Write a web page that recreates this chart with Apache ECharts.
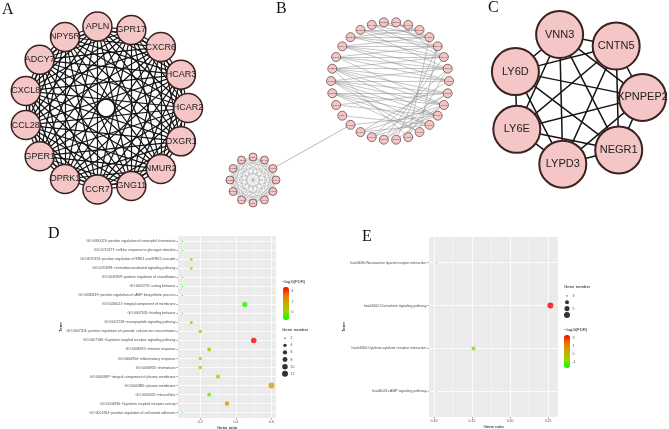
<!DOCTYPE html>
<html>
<head>
<meta charset="utf-8">
<script src="https://cdn.jsdelivr.net/npm/echarts@6/dist/echarts.min.js"></script>
<style>
  html, body { margin: 0; padding: 0; background: #fff; }
  #chart { width: 669px; height: 429px; }
</style>
</head>
<body>
<div id="chart"></div>
<script>
// ---- network A (listed clockwise from 3 o'clock)
const aGenes = ['HCAR2', 'OXGR1', 'NMUR2', 'GNG11', 'CCR7', 'OPRK1', 'GPER1', 'CCL28',
  'CXCL8', 'ADCY7', 'NPY5R', 'APLN', 'GPR17', 'CXCR6', 'HCAR3'];

// ---- network B: big module, small module and the one edge between them
const bBigGenes = ['CCR1', 'CCR2', 'CCR5', 'CXCR4', 'CCL2', 'CCL5', 'CXCL12', 'CCL19', 'CCL21', 'CXCL10',
  'CXCL9', 'CXCR3', 'CCR4', 'CCL17', 'CCL22', 'GNG2', 'GNB1', 'ADRA2A', 'HTR1A', 'DRD2',
  'OPRM1', 'NPY1R', 'PTGER3', 'S1PR1', 'LPAR1', 'C5AR1', 'FPR1', 'P2RY12', 'GNAI1', 'ADCY5'];
const bSmallGenes = ['LY6H', 'LYPD1', 'LY6K', 'PSCA', 'LYNX1', 'SLURP1', 'GPIHBP1', 'LYPD2',
  'LY6G6C', 'CD59', 'PLAUR', 'LYPD6'];
const bBigEdges = [
  [15, 29], [15, 0], [15, 1], [15, 2], [15, 3], [15, 4], [15, 5],
  [16, 28], [16, 29], [16, 0], [16, 1], [16, 2], [16, 3], [16, 6],
  [14, 1], [14, 2], [14, 3], [14, 4], [14, 5],
  [17, 27], [17, 28], [17, 0], [17, 2], [17, 29],
  [18, 26], [18, 27], [18, 28], [18, 29], [18, 0],
  [19, 25], [19, 26], [19, 27], [19, 28],
  [20, 25], [20, 26], [20, 27], [20, 29],
  [21, 24], [21, 26], [21, 28],
  [22, 25], [22, 27], [23, 26], [23, 28],
  [8, 1], [8, 2], [8, 28], [9, 1], [9, 3], [9, 29],
  [10, 2], [10, 4], [10, 0], [7, 2], [7, 27],
  [6, 26], [5, 27], [6, 29], [13, 3], [12, 4], [11, 3], [13, 1]
];
const bLink = [11, 11]; // [small module node, big module node]

// ---- network C
const cGenes = ['XPNPEP2', 'NEGR1', 'LYPD3', 'LY6E', 'LY6D', 'VNN3', 'CNTN5'];

// ---- D: GO terms
const dTerms = [
  'GO:0090023~positive regulation of neutrophil chemotaxis',
  'GO:0071377~cellular response to glucagon stimulus',
  'GO:0070374~positive regulation of ERK1 and ERK2 cascade',
  'GO:0070098~chemokine-mediated signaling pathway',
  'GO:0045909~positive regulation of vasodilation',
  'GO:0042755~eating behavior',
  'GO:0030819~positive regulation of cAMP biosynthetic process',
  'GO:0016021~integral component of membrane',
  'GO:0007631~feeding behavior',
  'GO:0007218~neuropeptide signaling pathway',
  'GO:0007204~positive regulation of cytosolic calcium ion concentration',
  'GO:0007186~G-protein coupled receptor signaling pathway',
  'GO:0006955~immune response',
  'GO:0006954~inflammatory response',
  'GO:0006935~chemotaxis',
  'GO:0005887~integral component of plasma membrane',
  'GO:0005886~plasma membrane',
  'GO:0005622~intracellular',
  'GO:0004930~G-protein coupled receptor activity',
  'GO:0001954~positive regulation of cell-matrix adhesion'
];
const dRatio = [0.1, 0.1, 0.15, 0.15, 0.1, 0.1, 0.1, 0.45, 0.1, 0.15, 0.2, 0.5, 0.25, 0.2, 0.2, 0.3, 0.6, 0.25, 0.35, 0.1];
const dCount = [2, 2, 3, 3, 2, 2, 2, 9, 2, 3, 4, 10, 5, 4, 4, 6, 12, 5, 7, 2];
const dLogFdr = [-1.4, -1.4, 0.2, 0.3, -1.3, -1.4, -1.2, -1.0, -1.4, -0.6, 0.5, 4.8, 1.0, 0.3, 0.8, 0.2, 1.8, -0.5, 2.2, -1.3];
const dRatioTicks = [0.2, 0.4, 0.6];
const dRatioMinor = [0.1, 0.3, 0.5];
const dSizeLegend = [2, 4, 6, 8, 10, 12];
const dColorTicks = [0, 2, 4];

// ---- E: KEGG pathways
const eTerms = [
  'hsa04080:Neuroactive ligand-receptor interaction',
  'hsa04062:Chemokine signaling pathway',
  'hsa04060:Cytokine-cytokine receptor interaction',
  'hsa04024:cAMP signaling pathway'
];
const eRatio = [0.103, 0.253, 0.152, 0.103];
const eCount = [3, 6, 4, 3];
const eLogFdr = [-1.5, 2.4, -0.9, 0.0];
const eRatioTicks = [0.10, 0.15, 0.20, 0.25];
const eRatioMinor = [0.125, 0.175, 0.225];
const eSizeLegend = [3, 4, 5, 6];
const eColorTicks = [-1, 0, 1, 2];

const FONT = 'Liberation Sans';
const SERIF = 'Liberation Serif';
const PINK = '#f5c6c6';
const RIM = '#3b2121';
const TXT = '#4d4d4d';
const FDR_COLORS = ['#00ff00', '#98d700', '#c8ab00', '#e87700', '#ff0000'];

// ggplot area scale for point size
const sizeScale = (lo, hi) => v => 1.3 + 4.7 * Math.sqrt((v - lo) / (hi - lo));
const sizeD = sizeScale(2, 12);
const sizeE = sizeScale(3, 6);

function ringNodes(names, start) {
  return names.map((n, i) => ({ name: n, value: [1, ((start + i * 360 / names.length) % 360 + 360) % 360] }));
}
function allPairs(names) {
  const out = [];
  for (let i = 0; i < names.length; i++)
    for (let j = i + 1; j < names.length; j++) out.push({ source: names[i], target: names[j] });
  return out;
}

const aNodes = ringNodes(aGenes, 0);
const bBigNodes = ringNodes(bBigGenes, 0);
const bSmallNodes = ringNodes(bSmallGenes, 0);
const cNodes = ringNodes(cGenes, -1.4);

function netSeries(polarIndex, nodes, links, o) {
  return {
    type: 'graph', coordinateSystem: 'polar', polarIndex,
    data: nodes, links, silent: true,
    symbol: 'circle', symbolSize: o.size,
    itemStyle: { color: PINK, borderColor: RIM, borderWidth: o.rim },
    label: { show: true, position: 'inside', formatter: '{b}', fontFamily: FONT, fontSize: o.font, color: o.textColor || '#222' },
    lineStyle: { color: o.edge, width: o.edgeWidth, opacity: 1, curveness: 0 },
    emphasis: { disabled: true }
  };
}

function polarAxes(n) {
  const angleAxis = [], radiusAxis = [];
  for (let i = 0; i < n; i++) {
    angleAxis.push({ polarIndex: i, type: 'value', min: 0, max: 360, startAngle: 0, clockwise: true, show: false });
    radiusAxis.push({ polarIndex: i, type: 'value', min: 0, max: 1, show: false });
  }
  return { angleAxis, radiusAxis };
}
const pa = polarAxes(4);

function ggX(gridIndex, min, max, ticks, digits, gap) {
  return {
    type: 'value', gridIndex, min, max,
    name: 'Gene ratio', nameLocation: 'middle', nameGap: gap,
    nameTextStyle: { fontFamily: FONT, fontSize: 4.3, color: '#000' },
    axisLine: { show: false },
    axisTick: { show: true, customValues: ticks, length: 1.5, lineStyle: { color: '#333', width: 0.5 } },
    axisLabel: { customValues: ticks, fontFamily: FONT, fontSize: 3.5, color: TXT, margin: 2.5, formatter: v => v.toFixed(digits) },
    splitLine: { show: true, lineStyle: { color: '#fff', width: 0.8 } }
  };
}
function ggMinorX(gridIndex, min, max, ticks) {
  return {
    type: 'value', gridIndex, min, max,
    axisLine: { show: false },
    axisTick: { show: false, customValues: ticks },
    axisLabel: { show: false, customValues: ticks },
    splitLine: { show: true, lineStyle: { color: '#fff', width: 0.4 } }
  };
}
function ggY(gridIndex, terms, gap) {
  const idx = terms.map((t, i) => i + 1);
  return {
    type: 'value', gridIndex, inverse: true, min: 0.4, max: terms.length + 0.6,
    name: 'Term', nameLocation: 'middle', nameGap: gap, nameRotate: 90,
    nameTextStyle: { fontFamily: FONT, fontSize: 4.3, color: '#000' },
    axisLine: { show: false },
    axisTick: { show: true, customValues: idx, length: 1.5, lineStyle: { color: '#333', width: 0.5 } },
    axisLabel: { customValues: idx, fontFamily: FONT, fontSize: 3.5, color: TXT, margin: 2.5, formatter: v => terms[Math.round(v) - 1] },
    splitLine: { show: true, lineStyle: { color: '#fff', width: 0.8 } }
  };
}
const hiddenX = gridIndex => ({ type: 'value', gridIndex, min: -1, max: 1, show: false });
function sizeLegendY(gridIndex, vals) {
  return {
    type: 'category', gridIndex, data: vals.map(String), inverse: true, position: 'right',
    axisLine: { show: false }, axisTick: { show: false }, splitLine: { show: false },
    axisLabel: { fontFamily: FONT, fontSize: 3.5, color: TXT, margin: 2.5 }
  };
}
function colorLegendY(gridIndex, min, max, ticks) {
  return {
    type: 'value', gridIndex, min, max, position: 'right',
    axisLine: { show: false }, axisTick: { show: false, customValues: ticks }, splitLine: { show: false },
    axisLabel: { customValues: ticks, fontFamily: FONT, fontSize: 3.5, color: TXT, margin: 2.5 }
  };
}

const letter = (text, left, top) => ({
  text, left, top, padding: 0,
  textStyle: { fontFamily: SERIF, fontSize: 16, fontWeight: 'normal', color: '#111' }
});
const small = (text, left, top) => ({
  text, left, top, padding: 0,
  textStyle: { fontFamily: FONT, fontSize: 4.3, fontWeight: 'normal', color: '#111',
    rich: { s: { fontFamily: FONT, fontSize: 3, color: '#111', padding: [2, 0, 0, 0] } } }
});

const option = {
  animation: false,
  textStyle: { fontFamily: FONT },
  title: [
    letter('A', 2, 2), letter('B', 276, 1), letter('C', 488, 0), letter('D', 48, 226), letter('E', 362, 229),
    small('\u2212log{s|10}(FDR)', 282, 279), small('Gene number', 282, 328),
    small('Gene number', 564, 285), small('\u2212log{s|10}(FDR)', 564, 327)
  ],
  polar: [
    { center: [106, 108], radius: 82 },
    { center: [390, 81], radius: 59 },
    { center: [253, 180], radius: 23 },
    { center: [576, 99], radius: 66.5 }
  ],
  angleAxis: pa.angleAxis,
  radiusAxis: pa.radiusAxis,
  grid: [
    { left: 178, top: 236, width: 98, height: 182, show: true, backgroundColor: '#ebebeb', borderWidth: 0, outerBoundsMode: 'none' },
    { left: 429, top: 237, width: 129, height: 180, show: true, backgroundColor: '#ebebeb', borderWidth: 0, outerBoundsMode: 'none' },
    { left: 282, top: 334.7, width: 6, height: 42.6, outerBoundsMode: 'none' },
    { left: 283, top: 287, width: 6, height: 33, outerBoundsMode: 'none' },
    { left: 564, top: 292.8, width: 6, height: 25.3, outerBoundsMode: 'none' },
    { left: 564, top: 335, width: 6, height: 33, outerBoundsMode: 'none' }
  ],
  xAxis: [
    ggX(0, 0.075, 0.625, dRatioTicks, 1, 6.5),
    ggMinorX(0, 0.075, 0.625, dRatioMinor),
    ggX(1, 0.0935, 0.263, eRatioTicks, 2, 6),
    ggMinorX(1, 0.0935, 0.263, eRatioMinor),
    hiddenX(2), hiddenX(3), hiddenX(4), hiddenX(5)
  ],
  yAxis: [
    ggY(0, dTerms, 112.8),
    ggY(1, eTerms, 79.8),
    sizeLegendY(2, dSizeLegend),
    colorLegendY(3, -1.5, 4.8, dColorTicks),
    sizeLegendY(4, eSizeLegend),
    colorLegendY(5, -1.75, 2.4, eColorTicks)
  ],
  visualMap: [
    { type: 'continuous', seriesIndex: 4, dimension: 3, min: -1.5, max: 4.8, left: 283, top: 287,
      itemWidth: 6, itemHeight: 33, padding: 0, calculable: false, hoverLink: false, inRange: { color: FDR_COLORS } },
    { type: 'continuous', seriesIndex: 5, dimension: 3, min: -1.75, max: 2.4, left: 564, top: 335,
      itemWidth: 6, itemHeight: 33, padding: 0, calculable: false, hoverLink: false, inRange: { color: FDR_COLORS } }
  ],
  series: [
    netSeries(0, aNodes, allPairs(aGenes), { size: 29, rim: 1.5, font: 9, edge: '#141414', edgeWidth: 1.2 }),
    netSeries(1, bBigNodes, bBigEdges.map(e => ({ source: bBigGenes[e[0]], target: bBigGenes[e[1]] })),
      { size: 9, rim: 0.6, font: 2.4, edge: '#8c8c8c', edgeWidth: 0.5, textColor: '#6a3a3a' }),
    netSeries(2, bSmallNodes, allPairs(bSmallGenes),
      { size: 8, rim: 0.6, font: 2.2, edge: '#9a9a9a', edgeWidth: 0.4, textColor: '#6a3a3a' }),
    netSeries(3, cNodes, allPairs(cGenes), { size: 47, rim: 2, font: 11, edge: '#141414', edgeWidth: 1.5 }),
    {
      type: 'scatter', xAxisIndex: 0, yAxisIndex: 0, silent: true,
      data: dTerms.map((t, i) => [dRatio[i], i + 1, dCount[i], dLogFdr[i]]),
      symbolSize: v => sizeD(v[2])
    },
    {
      type: 'scatter', xAxisIndex: 2, yAxisIndex: 1, silent: true,
      data: eTerms.map((t, i) => [eRatio[i], i + 1, eCount[i], eLogFdr[i]]),
      symbolSize: v => sizeE(v[2])
    },
    {
      type: 'scatter', xAxisIndex: 4, yAxisIndex: 2, silent: true, itemStyle: { color: '#000' },
      data: dSizeLegend.map(v => [0, String(v)]), symbolSize: v => sizeD(+v[1])
    },
    {
      type: 'scatter', xAxisIndex: 6, yAxisIndex: 4, silent: true, itemStyle: { color: '#000' },
      data: eSizeLegend.map(v => [0, String(v)]), symbolSize: v => sizeE(+v[1])
    }
  ]
};

const chart = echarts.init(document.getElementById('chart'), null, { renderer: 'canvas' });
chart.setOption(option);

// edge joining the two modules of B, from the positions the library gave the two nodes
const p1 = chart.convertToPixel({ polarIndex: 2 }, bSmallNodes[bLink[0]].value);
const p2 = chart.convertToPixel({ polarIndex: 1 }, bBigNodes[bLink[1]].value);
if (p1 && p2) {
  chart.setOption({
    graphic: [{ type: 'line', silent: true, z: 0,
      shape: { x1: p1[0], y1: p1[1], x2: p2[0], y2: p2[1] },
      style: { stroke: '#8c8c8c', lineWidth: 0.6 } }]
  });
}
</script>
</body>
</html>
